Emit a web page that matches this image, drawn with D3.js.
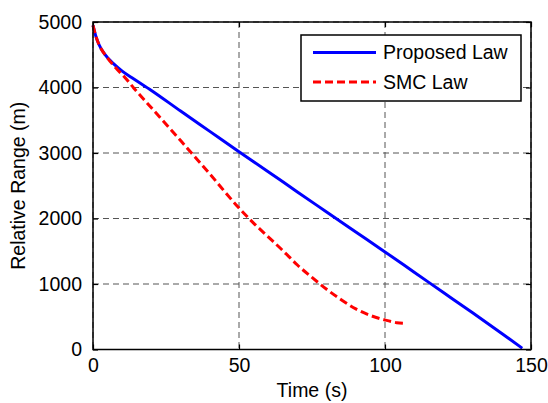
<!DOCTYPE html>
<html><head><meta charset="utf-8">
<script src="https://cdn.jsdelivr.net/npm/d3@7"></script>
<style>body{margin:0;background:#fff}svg{display:block}text{font-family:"Liberation Sans",Arial,sans-serif;fill:#000}</style>
</head><body><svg id="c" width="548" height="403"></svg>
<script>
const xTicks = [0, 50, 100, 150];
const yTicks = [0, 1000, 2000, 3000, 4000, 5000];
const seriesNames = ["Proposed Law", "SMC Law"];
const proposedT = [0, 1, 2, 4, 7, 10, 14, 20, 30, 40, 50, 60, 70, 80, 90, 100, 110, 120, 130, 140, 147];
const proposedR = [4950, 4780, 4660, 4510, 4365, 4250, 4130, 3955, 3640, 3330, 3020, 2715, 2405, 2100, 1795, 1490, 1180, 870, 560, 245, 20];
const smcT = [0, 1, 2, 5, 8, 11, 14, 20, 30, 40, 50, 55, 60, 65, 70, 75, 80, 85, 90, 95, 100, 104, 107];
const smcR = [4950, 4780, 4660, 4450, 4290, 4150, 3990, 3690, 3190, 2680, 2160, 1930, 1720, 1510, 1290, 1100, 920, 760, 620, 520, 450, 410, 400];

const svg = d3.select("#c");
const L = 93, R = 531, T = 22, B = 349.5;
const x = d3.scaleLinear().domain([0, 150]).range([L, R]);
const y = d3.scaleLinear().domain([0, 5000]).range([B, T]);
const fs = 19.5;

// grid
const g = svg.append("g");
g.selectAll(".gx").data(xTicks).join("line")
  .attr("x1", d => x(d)).attr("x2", d => x(d)).attr("y1", T).attr("y2", B)
  .attr("stroke", "#555").attr("stroke-width", 1).attr("stroke-dasharray", "6,4");
g.selectAll(".gy").data(yTicks).join("line")
  .attr("x1", L).attr("x2", R).attr("y1", d => y(d)).attr("y2", d => y(d))
  .attr("stroke", "#555").attr("stroke-width", 1).attr("stroke-dasharray", "6,4");

// axes with inward ticks
svg.append("g").attr("transform", `translate(0,${B})`)
  .call(d3.axisBottom(x).tickValues(xTicks).tickSizeInner(-5).tickSizeOuter(0).tickPadding(9))
  .call(a => a.select(".domain").remove());
svg.append("g").attr("transform", `translate(0,${T})`)
  .call(d3.axisTop(x).tickValues(xTicks).tickSizeInner(-5).tickSizeOuter(0).tickFormat(""))
  .call(a => a.select(".domain").remove());
svg.append("g").attr("transform", `translate(${L},0)`)
  .call(d3.axisLeft(y).tickValues(yTicks).tickSizeInner(-5).tickSizeOuter(0).tickPadding(11).tickFormat(d3.format("d")))
  .call(a => a.select(".domain").remove());
svg.append("g").attr("transform", `translate(${R},0)`)
  .call(d3.axisRight(y).tickValues(yTicks).tickSizeInner(-5).tickSizeOuter(0).tickFormat(""))
  .call(a => a.select(".domain").remove());
svg.selectAll(".tick line").attr("stroke", "#000").attr("stroke-width", 1.2);
svg.selectAll(".tick text").attr("font-size", fs).attr("font-family", "Liberation Sans, Arial, sans-serif").attr("fill", "#000");

// series
const line = d3.line().x(d => x(d[0])).y(d => y(d[1])).curve(d3.curveMonotoneX);
const pData = proposedT.map((t, i) => [t, proposedR[i]]);
const sData = smcT.map((t, i) => [t, smcR[i]]);
svg.append("path").datum(pData).attr("d", line)
  .attr("fill", "none").attr("stroke", "#0000ff").attr("stroke-width", 3);
svg.append("path").datum(sData).attr("d", line)
  .attr("fill", "none").attr("stroke", "#ff0000").attr("stroke-width", 3).attr("stroke-dasharray", "8,4");

// box
svg.append("rect").attr("x", L).attr("y", T).attr("width", R - L).attr("height", B - T)
  .attr("fill", "none").attr("stroke", "#000").attr("stroke-width", 1.5);

// axis labels
svg.append("text").attr("x", (L + R) / 2).attr("y", 397).attr("text-anchor", "middle")
  .attr("font-size", fs).text("Time (s)");
svg.append("text").attr("transform", `translate(25,${(T + B) / 2}) rotate(-90)`).attr("text-anchor", "middle")
  .attr("font-size", fs).text("Relative Range (m)");

// legend
const lg = svg.append("g");
lg.append("rect").attr("x", 301).attr("y", 35).attr("width", 220).attr("height", 66)
  .attr("fill", "#fff").attr("stroke", "#000").attr("stroke-width", 1.5);
const colors = ["#0000ff", "#ff0000"];
const dashes = [null, "8,4"];
seriesNames.forEach((n, i) => {
  const yy = 52.5 + i * 29.5;
  lg.append("line").attr("x1", 313).attr("x2", 376).attr("y1", yy).attr("y2", yy)
    .attr("stroke", colors[i]).attr("stroke-width", 3).attr("stroke-dasharray", dashes[i]);
  lg.append("text").attr("x", 383).attr("y", yy).attr("dy", "0.35em").attr("font-size", fs).text(n);
});
</script></body></html>
